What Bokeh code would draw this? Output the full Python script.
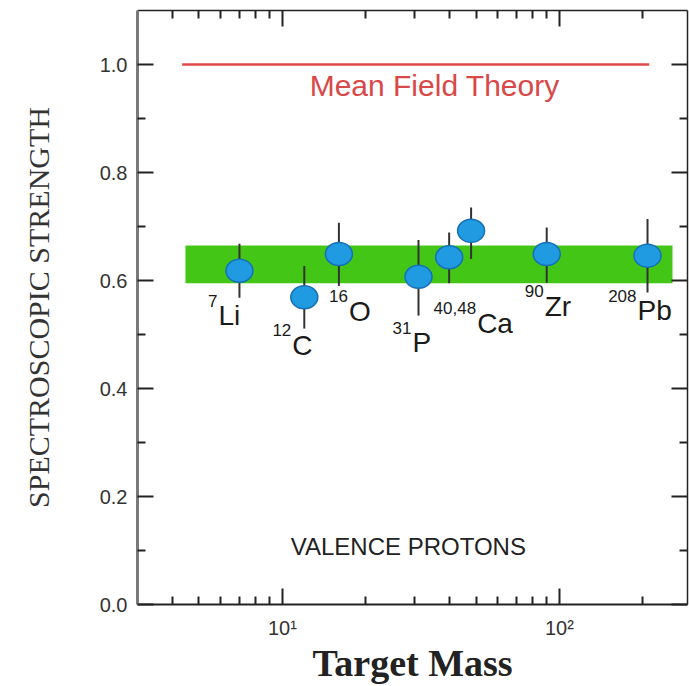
from bokeh.plotting import figure
from bokeh.models import (FixedTicker, LogAxis, LinearAxis, Label, ColumnDataSource,
                          Range1d)
from bokeh.embed import file_html
from bokeh.resources import INLINE

# ---------------- data ----------------
mass = [7, 12, 16, 31, 40, 48, 90, 208]
strength = [0.618, 0.569, 0.649, 0.607, 0.643, 0.692, 0.649, 0.646]
err_minus = [0.050, 0.058, 0.059, 0.072, 0.048, 0.052, 0.053, 0.068]
err_plus = [0.050, 0.058, 0.058, 0.068, 0.046, 0.043, 0.049, 0.068]

label_index = [0, 1, 2, 3, 4, 6, 7]
label_sup = ["7", "12", "16", "31", "40,48", "90", "208"]
label_sym = ["Li", "C", "O", "P", "Ca", "Zr", "Pb"]

mean_field_value = 1.0
mean_field_mass = [4.35, 211]
band_mass = [4.47, 256]
band_low = 0.595
band_high = 0.665

y_ticks = [0.0, 0.2, 0.4, 0.6, 0.8, 1.0]
y_minor = [0.1, 0.3, 0.5, 0.7, 0.9]
y_tick_labels = ["0.0", "0.2", "0.4", "0.6", "0.8", "1.0"]
x_ticks = [10, 100]
x_minor = [4, 5, 6, 7, 8, 9, 20, 30, 40, 50, 60, 70, 80, 90, 200]
x_tick_labels = ["10\u00b9", "10\u00b2"]

# ---------------- styles ----------------
lab_dx = [-21, -12, 10, -6, 28, -2, -10]
lab_dy = [45, 48, 57, 66, 66, 52, 55]
SANS = "Liberation Sans"
SERIF = "Liberation Serif"

p = figure(width=689, height=686, x_axis_type="log",
           x_range=Range1d(3, 290), y_range=Range1d(0, 1.1),
           output_backend="svg", toolbar_location=None,
           min_border_left=137, min_border_right=2, min_border_top=10,
           min_border_bottom=81)
p.grid.visible = False
p.outline_line_color = None
p.background_fill_color = "white"
p.border_fill_color = "white"

# band
p.quad(left=[band_mass[0]], right=[band_mass[1]], bottom=[band_low], top=[band_high],
       fill_color="#44c616", line_color=None)
# mean field line
p.line(mean_field_mass, [mean_field_value, mean_field_value], line_color="#e04848",
       line_width=2.5)

src = ColumnDataSource(dict(
    x=mass, y=strength,
    lo=[s - e for s, e in zip(strength, err_minus)],
    hi=[s + e for s, e in zip(strength, err_plus)],
))
p.segment(x0="x", x1="x", y0="lo", y1="hi", source=src, line_color="#333333", line_width=2)
p.ellipse(x="x", y="y", width=27, height=23, width_units="screen", height_units="screen",
          source=src, fill_color="#209ae0", line_color="#1670b5", line_width=1.5)

lab_src = ColumnDataSource(dict(
    x=[mass[i] for i in label_index],
    y=[strength[i] for i in label_index],
    sym=label_sym, sup=label_sup,
    dx=lab_dx, dy=lab_dy,
    sdx=[d - 1 for d in lab_dx], sdy=[d - 15 for d in lab_dy],
))
p.text(x="x", y="y", text="sym", x_offset="dx", y_offset="dy", source=lab_src,
       text_font={"value": SANS}, text_font_size="28px", text_color="#1a1a1a",
       text_align="left", text_baseline="alphabetic")
p.text(x="x", y="y", text="sup", x_offset="sdx", y_offset="sdy", source=lab_src,
       text_font={"value": SANS}, text_font_size="17px", text_color="#1a1a1a",
       text_align="right", text_baseline="alphabetic")

p.add_layout(Label(x=(mean_field_mass[0] * mean_field_mass[1]) ** 0.5, y=mean_field_value,
                   x_offset=19, y_offset=-21, text="Mean Field Theory",
                   text_font=SANS, text_font_size="30px", text_color="#d84848",
                   text_align="center", text_baseline="alphabetic"))
p.add_layout(Label(x=28.5, y=0.107, text="VALENCE PROTONS", text_font=SANS,
                   text_font_size="24px", text_color="#222222", text_align="center",
                   text_baseline="alphabetic"))

# ---------------- axes ----------------
xt = FixedTicker(ticks=x_ticks, minor_ticks=x_minor)
yt = FixedTicker(ticks=y_ticks, minor_ticks=y_minor)


def style(ax, color="#222222", width=2):
    ax.axis_line_color = color
    ax.axis_line_width = width
    ax.major_tick_line_color = "#222222"
    ax.minor_tick_line_color = "#222222"
    ax.major_tick_line_width = 2
    ax.minor_tick_line_width = 2
    ax.major_tick_in = 16
    ax.major_tick_out = 0
    ax.minor_tick_in = 8
    ax.minor_tick_out = 0


xa = p.xaxis[0]
xa.ticker = xt
xa.major_label_overrides = {t: s for t, s in zip(x_ticks, x_tick_labels)}
style(xa)
xa.major_label_text_font = SANS
xa.major_label_text_font_size = "20px"
xa.major_label_text_color = "#333333"
xa.major_label_standoff = 12
xa.axis_label = "Target Mass"
xa.axis_label_text_font = SERIF
xa.axis_label_text_font_style = "bold"
xa.axis_label_text_font_size = "38px"
xa.axis_label_text_color = "#222222"
xa.axis_label_standoff = 0

ya = p.yaxis[0]
ya.ticker = yt
ya.major_label_overrides = {t: s for t, s in zip(y_ticks, y_tick_labels)}
style(ya, color="#7a7a7a", width=3)
ya.major_label_text_font = SANS
ya.major_label_text_font_size = "20px"
ya.major_label_text_color = "#333333"
ya.major_label_standoff = 10
ya.axis_label = "SPECTROSCOPIC STRENGTH"
ya.axis_label_text_font = SERIF
ya.axis_label_text_font_style = "normal"
ya.axis_label_text_font_size = "30px"
ya.axis_label_text_color = "#333333"
ya.axis_label_standoff = 42

top = LogAxis(ticker=FixedTicker(ticks=x_ticks, minor_ticks=x_minor))
style(top, width=1.5)
top.major_label_text_font_size = "1px"
top.major_label_text_alpha = 0
top.major_label_standoff = 0
p.add_layout(top, "above")

right = LinearAxis(ticker=FixedTicker(ticks=y_ticks, minor_ticks=y_minor))
style(right, width=1.5)
right.major_label_text_font_size = "1px"
right.major_label_text_alpha = 0
right.major_label_standoff = 0
p.add_layout(right, "right")

open("out.html", "w").write(file_html(p, INLINE))
